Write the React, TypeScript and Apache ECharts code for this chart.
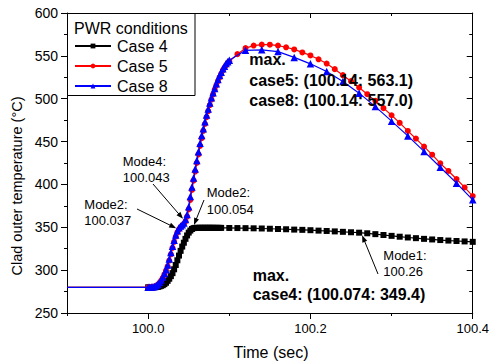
import React, { useEffect, useRef } from "react";
import * as echarts from "echarts";

const FONT = "'Liberation Sans', Arial, Helvetica, sans-serif";

// ---- data ----
const preTime = [99.9];
const preTemp = [280];

const riseTime = [
  100.0, 100.002, 100.004, 100.006, 100.008, 100.01, 100.012, 100.014, 100.016, 100.018,
  100.02, 100.022, 100.024, 100.026, 100.028, 100.03, 100.032, 100.034, 100.036, 100.038,
  100.04, 100.042, 100.044, 100.046, 100.048, 100.05, 100.052, 100.054, 100.056, 100.058,
  100.06, 100.062, 100.064, 100.066, 100.068, 100.07, 100.072, 100.074, 100.076, 100.078,
  100.08, 100.082, 100.084, 100.086, 100.088, 100.09, 100.092, 100.094, 100.096, 100.098,
  100.1,
];
const case8RiseTemp = [
  280, 280.1, 280.3, 280.6, 281, 282, 283.5, 286, 288.5, 292,
  296, 300.5, 306, 313, 320.5, 328, 335, 341, 346, 349.5,
  351.5, 353, 355, 359, 365, 374, 386, 397, 407.5, 418,
  428, 438, 448, 457, 465, 473, 481, 488, 495, 501,
  507, 512, 517.5, 522.5, 527, 531, 535, 538, 541, 543,
  545,
];
const case5RiseTemp = [
  280, 280.1, 280.2, 280.5, 280.9, 281.7, 283, 285.3, 287.8, 291,
  295, 299.5, 304.5, 311, 318.5, 326, 333, 339, 344, 347.5,
  350, 352, 354, 357, 362.5, 371, 382, 393.5, 404.5, 415,
  425, 435, 445, 454, 462.5, 470.5, 478.5, 485.5, 492.5, 499,
  505, 510.5, 515.5, 520.5, 525, 529, 533, 536, 539, 541.5,
  543.5,
];

const case5TailTime = [100.11, 100.12, 100.13, 100.14, 100.15, 100.16, 100.17, 100.18, 100.19, 100.2, 100.21, 100.22, 100.23, 100.24, 100.25, 100.26, 100.27, 100.28, 100.29, 100.3, 100.31, 100.32, 100.33, 100.34, 100.35, 100.36, 100.37, 100.38, 100.39, 100.4];
const case5TailTemp = [552, 559, 562, 563.1, 563, 562, 560, 557.5, 554, 550.5, 546, 541, 534.5, 527.5, 520.5, 513, 505.3, 497.5, 489, 480.7, 471.8, 462.4, 453.5, 444.1, 434.7, 424.6, 415.7, 406.3, 396.5, 386.4];

const case8TailTime = [100.12, 100.14, 100.16, 100.18, 100.2, 100.22, 100.24, 100.26, 100.28, 100.3, 100.32, 100.34, 100.36, 100.38, 100.4];
const case8TailTemp = [556.5, 557.0, 555, 548.2, 540.7, 531.8, 520, 506.5, 490.8, 473.8, 456.6, 438.5, 420, 401.5, 382];

const case4RiseTime = [
  100.0, 100.002, 100.004, 100.006, 100.008, 100.01, 100.012, 100.014, 100.016, 100.018,
  100.02, 100.022, 100.024, 100.026, 100.028, 100.03, 100.032, 100.034, 100.036, 100.038,
  100.04, 100.042, 100.044, 100.046, 100.048, 100.05, 100.052, 100.054, 100.056, 100.058,
  100.06, 100.062, 100.064, 100.066, 100.068, 100.07, 100.072, 100.074, 100.076, 100.078,
  100.08, 100.082, 100.084, 100.086, 100.088, 100.09,
];
const case4RiseTemp = [
  280, 280, 280, 280, 280.1, 280.3, 280.5, 281, 281.7, 282.5,
  283.7, 285.3, 287.5, 290, 293, 296.5, 301, 306, 311.5, 317,
  322.5, 327.5, 332, 336.5, 340.5, 343.8, 346.2, 348, 349, 349.3,
  349.35, 349.35, 349.4, 349.4, 349.4, 349.4, 349.4, 349.4, 349.4, 349.4,
  349.38, 349.36, 349.35, 349.33, 349.32, 349.3,
];
const case4TailTime = [100.1, 100.11, 100.12, 100.13, 100.14, 100.15, 100.16, 100.17, 100.18, 100.19, 100.2, 100.21, 100.22, 100.23, 100.24, 100.25, 100.26, 100.27, 100.28, 100.29, 100.3, 100.31, 100.32, 100.33, 100.34, 100.35, 100.36, 100.37, 100.38, 100.39, 100.4];
const case4TailTemp = [349.2, 349.1, 349.0, 348.8, 348.6, 348.3, 348.0, 347.7, 347.3, 347.0, 346.6, 346.1, 345.7, 345.2, 344.7, 344.2, 343.7, 343.0, 342.0, 341.0, 340.0, 339.0, 338.1, 337.3, 336.5, 335.8, 335.1, 334.5, 334.0, 333.5, 333.0];

const seriesNames = ["Case 4", "Case 5", "Case 8"];
const seriesColors = ["#000000", "#ff0000", "#0000ff"];
const xMajorTicks = [100.0, 100.2, 100.4];

const X_MIN = 99.9;
const X_MAX = 100.4;
const Y_MIN = 250;
const Y_MAX = 600;

const pairs = (ts: number[], vs: number[]) => ts.map((t, i) => [t, vs[i]]);
const withPre = (ts: number[], vs: number[]) => [
  { value: [preTime[0], preTemp[0]], symbol: "none" },
  ...pairs(ts, vs),
];

function arrowEls(tail: number[], head: number[]) {
  const dx = head[0] - tail[0];
  const dy = head[1] - tail[1];
  const len = Math.hypot(dx, dy);
  const ux = dx / len, uy = dy / len;
  const hl = 7, hw = 2.6;
  const bx = head[0] - ux * hl, by = head[1] - uy * hl;
  const px = -uy, py = ux;
  return [
    { type: "line", z: 20, shape: { x1: tail[0], y1: tail[1], x2: bx + ux, y2: by + uy }, style: { stroke: "#000", lineWidth: 1 } },
    { type: "polygon", z: 20, shape: { points: [[head[0], head[1]], [bx + px * hw, by + py * hw], [bx - px * hw, by - py * hw]] }, style: { fill: "#000" } },
  ];
}

function txt(x: number, y: number, text: string, size: number, bold = false, extra: any = {}) {
  return {
    type: "text",
    z: 20,
    x,
    y,
    ...extra,
    style: {
      text,
      fontSize: size,
      fontFamily: FONT,
      fontWeight: bold ? "bold" : "normal",
      fill: "#000",
      align: extra.align || "left",
      verticalAlign: "middle",
    },
  };
}

export default function App() {
  const ref = useRef<HTMLDivElement>(null);
  useEffect(() => {
    if (!ref.current) return;
    const chart = echarts.init(ref.current, undefined, { renderer: "svg" });
    const axisCommon = {
      type: "value",
      min: X_MIN,
      max: X_MAX,
      splitLine: { show: false },
    };
    const option: any = {
      animation: false,
      backgroundColor: "#fff",
      grid: { left: 67, right: 16, top: 13, bottom: 50, containLabel: false },
      xAxis: [
        {
          ...axisCommon,
          position: "bottom",
          interval: 0.1,
          axisLine: { show: true, lineStyle: { color: "#000", width: 1 } },
          axisTick: { show: true, inside: false, length: 3, lineStyle: { color: "#000" } },
          axisLabel: {
            show: true,
            margin: 9,
            fontSize: 13,
            fontFamily: FONT,
            color: "#000",
            formatter: (v: number) => (Math.round(v * 10) % 2 === 0 ? v.toFixed(1) : ""),
          },
        },
        {
          ...axisCommon,
          position: "bottom",
          axisLine: { show: false },
          axisTick: { show: true, inside: false, length: 6, customValues: xMajorTicks, lineStyle: { color: "#000" } },
          axisLabel: { show: false },
        },
        {
          ...axisCommon,
          position: "top",
          interval: 0.1,
          axisLine: { show: true, lineStyle: { color: "#000", width: 1 } },
          axisTick: { show: true, inside: true, length: 3, lineStyle: { color: "#000" } },
          axisLabel: { show: false },
        },
        {
          ...axisCommon,
          position: "top",
          axisLine: { show: false },
          axisTick: { show: true, inside: true, length: 5, customValues: xMajorTicks, lineStyle: { color: "#000" } },
          axisLabel: { show: false },
        },
      ],
      yAxis: [
        {
          type: "value",
          position: "left",
          min: Y_MIN,
          max: Y_MAX,
          interval: 50,
          splitLine: { show: false },
          axisLine: { show: true, lineStyle: { color: "#000", width: 1 } },
          axisTick: { show: true, inside: false, length: 6, lineStyle: { color: "#000" } },
          minorTick: { show: true, splitNumber: 2, length: 3, lineStyle: { color: "#000" } },
          minorSplitLine: { show: false },
          axisLabel: { margin: 9, fontSize: 14, fontFamily: FONT, color: "#000" },
        },
        {
          type: "value",
          position: "right",
          min: Y_MIN,
          max: Y_MAX,
          interval: 50,
          splitLine: { show: false },
          axisLine: { show: true, lineStyle: { color: "#000", width: 1 } },
          axisTick: { show: true, inside: true, length: 6, lineStyle: { color: "#000" } },
          minorTick: { show: true, splitNumber: 2, length: 3.5, lineStyle: { color: "#000" } },
          minorSplitLine: { show: false },
          axisLabel: { show: false },
        },
      ],
      legend: {
        data: seriesNames,
        orient: "vertical",
        left: 74,
        top: 36,
        padding: 0,
        itemGap: 0,
        itemWidth: 36,
        itemHeight: 6,
        textStyle: { fontSize: 16, lineHeight: 20, fontFamily: FONT, color: "#000", padding: [0, 0, 0, 1] },
        z: 6,
      },
      series: [
        {
          name: seriesNames[0],
          type: "line",
          xAxisIndex: 0,
          yAxisIndex: 0,
          symbol: "rect",
          symbolSize: 6,
          color: seriesColors[0],
          lineStyle: { width: 1.2, color: seriesColors[0] },
          data: withPre([...case4RiseTime, ...case4TailTime], [...case4RiseTemp, ...case4TailTemp]),
          z: 2,
        },
        {
          name: seriesNames[1],
          type: "line",
          xAxisIndex: 0,
          yAxisIndex: 0,
          symbol: "circle",
          symbolSize: 6,
          color: seriesColors[1],
          lineStyle: { width: 1.2, color: seriesColors[1] },
          data: withPre([...riseTime, ...case5TailTime], [...case5RiseTemp, ...case5TailTemp]),
          z: 3,
        },
        {
          name: seriesNames[2],
          type: "line",
          xAxisIndex: 0,
          yAxisIndex: 0,
          symbol: "triangle",
          symbolSize: 7.5,
          color: seriesColors[2],
          lineStyle: { width: 1.2, color: seriesColors[2] },
          data: withPre([...riseTime, ...case8TailTime], [...case8RiseTemp, ...case8TailTemp]),
          z: 4,
        },
      ],
    };
    chart.setOption(option);

    const px = (p: number[]) => chart.convertToPixel({ xAxisIndex: 0, yAxisIndex: 0 }, p) as number[];
    const h4 = px([100.043, 354]);
    const h2l = px([100.037, 349]);
    const h2r = px([100.054, 348]);
    const h1 = px([100.26, 343.7]);

    const graphic: any[] = [
      { type: "rect", z: 5, shape: { x: 67.5, y: 13.5, width: 127.5, height: 82 }, style: { fill: "#fff", stroke: "#000", lineWidth: 1 } },
      txt(74, 28, "PWR conditions", 16),
      txt(17, 186, "Clad outer temperature (°C)", 14.5, false, { rotation: Math.PI / 2, align: "center" }),
      txt(271, 352, "Time (sec)", 16, false, { align: "center" }),
      txt(249.3, 59.5, "max.", 16, true),
      txt(249.3, 80.5, "case5: (100.14: 563.1)", 16, true),
      txt(249.3, 100, "case8: (100.14: 557.0)", 16, true),
      txt(252.7, 275, "max.", 16, true),
      txt(252.7, 294, "case4: (100.074: 349.4)", 16, true),
      txt(122.7, 161, "Mode4:", 13),
      txt(122.7, 177.5, "100.043", 13),
      txt(84.3, 204, "Mode2:", 13),
      txt(84.3, 220.8, "100.037", 13),
      txt(206.7, 192.5, "Mode2:", 13),
      txt(206.7, 209.3, "100.054", 13),
      txt(383.3, 255.7, "Mode1:", 13),
      txt(383.3, 271.3, "100.26", 13),
      ...arrowEls([153, 184], [h4[0], h4[1] - 5]),
      ...arrowEls([137, 209], [h2l[0] - 2, h2l[1]]),
      ...arrowEls([204, 200], [h2r[0] + 2, h2r[1] - 4]),
      ...arrowEls([378, 274], [h1[0] + 3, h1[1] + 2.5]),
    ];
    chart.setOption({ graphic });

    return () => chart.dispose();
  }, []);
  return <div ref={ref} style={{ position: "absolute", left: 0, top: 0, width: 492, height: 363 }} />;
}
